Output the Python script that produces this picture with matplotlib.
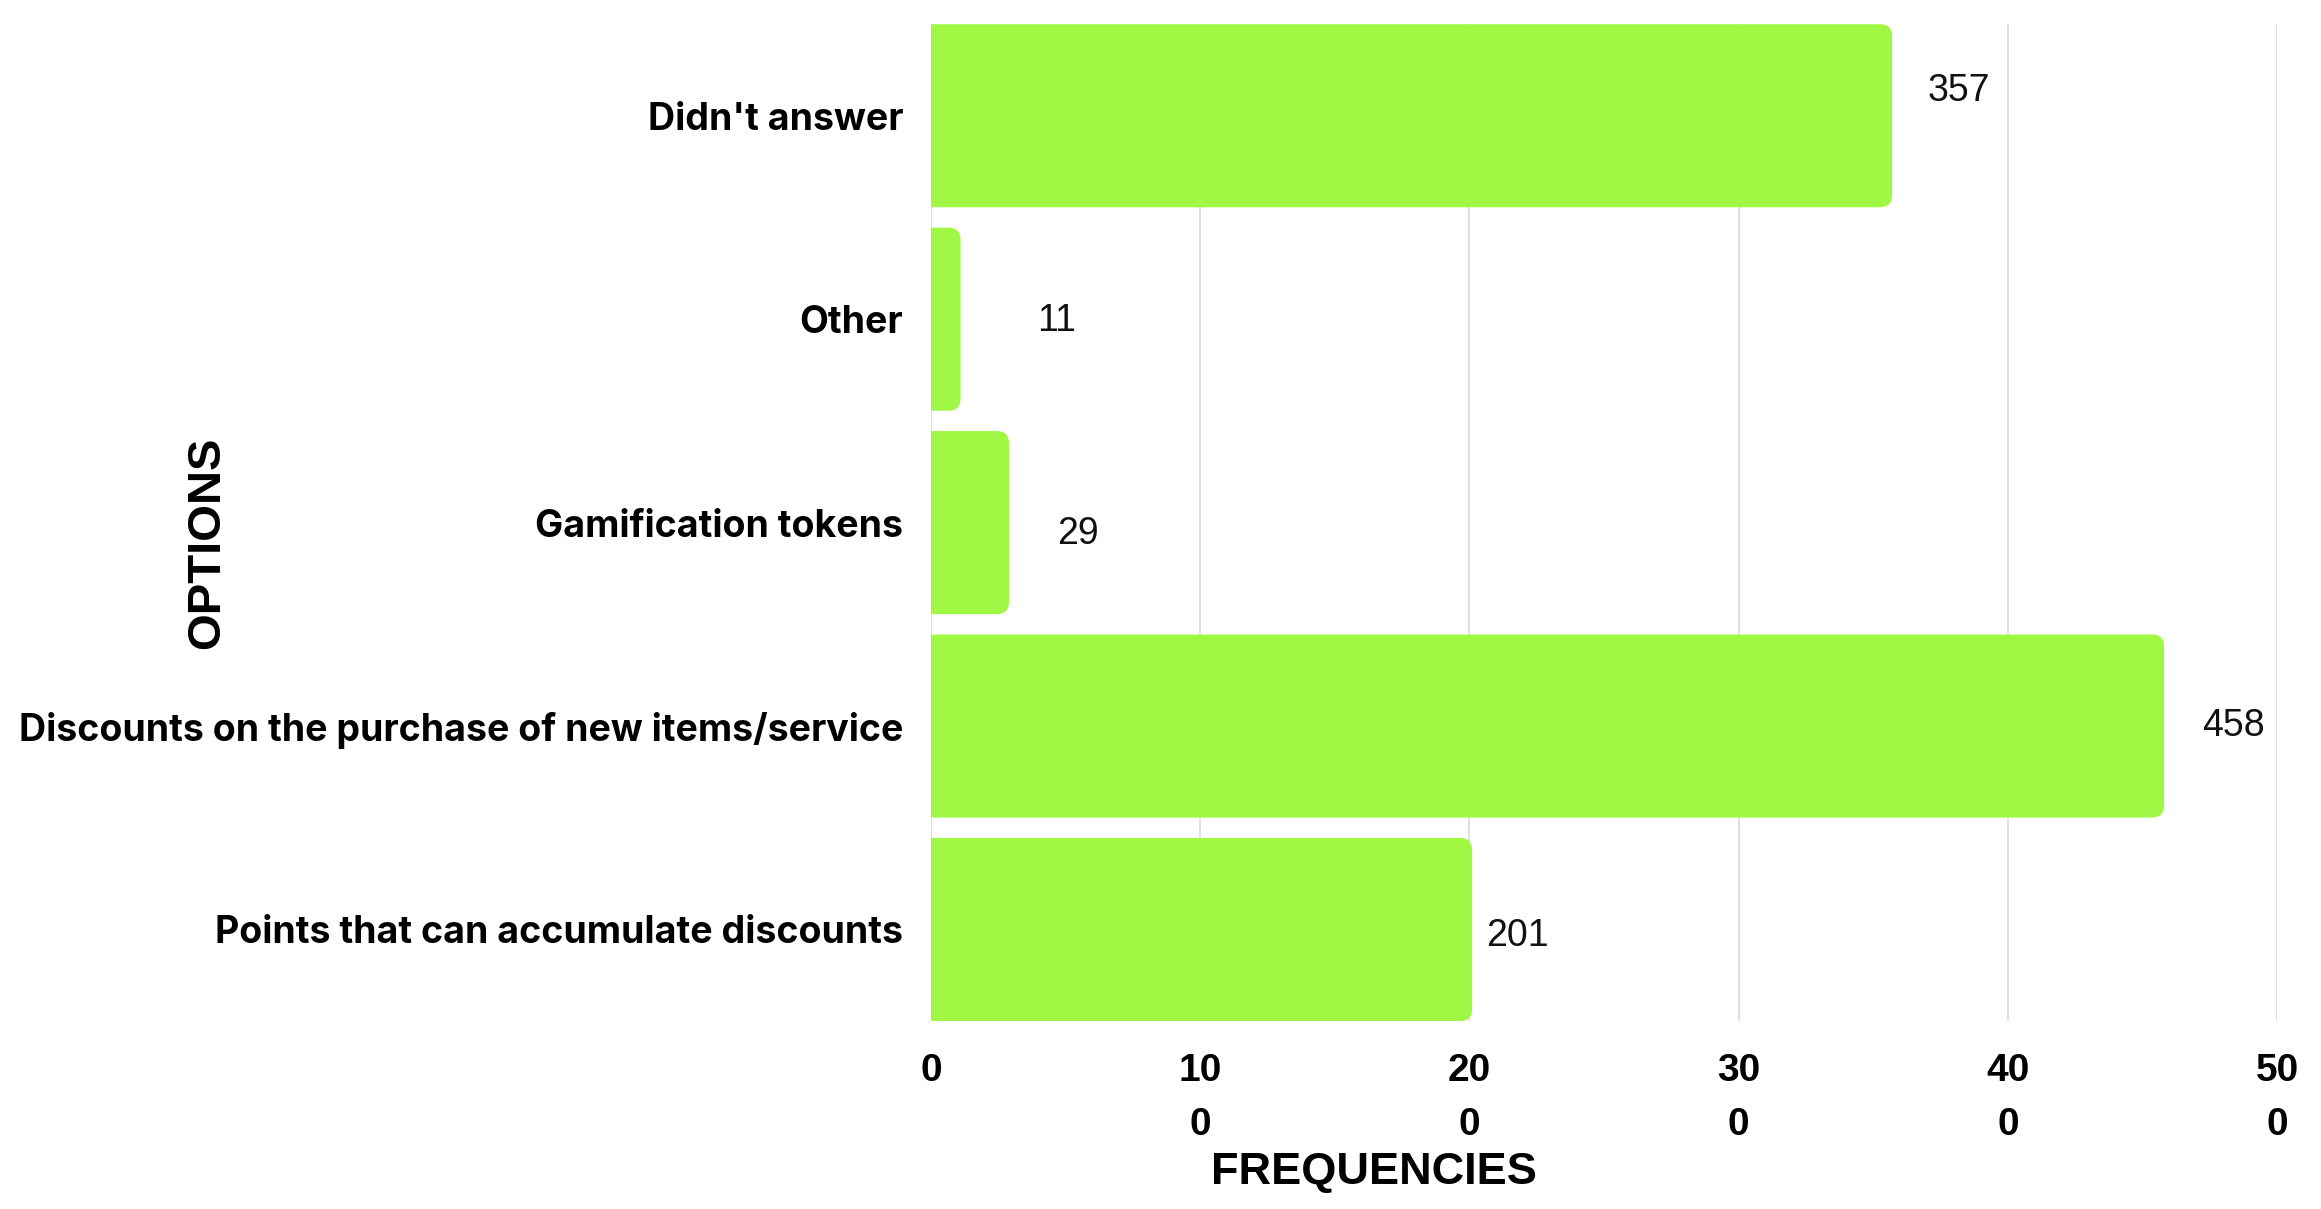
import matplotlib.pyplot as plt
from matplotlib.patches import FancyBboxPatch

# Data (bottom to top)
options = ['Points that can accumulate discounts',
           'Discounts on the purchase of new items/service',
           'Gamification tokens',
           'Other',
           "Didn't answer"]
freqs = [201, 458, 29, 11, 357]
xticks = [0, 100, 200, 300, 400, 500]
xtick_labels = ['0', '10\n0', '20\n0', '30\n0', '40\n0', '50\n0']

# label nudges in pixels (dx right, dy up)
lab_dx = [14, 38, 48, 77, 35]
lab_dy = [-7, 0, -11, -2, 25]

bar_color = '#a0f845'

fig = plt.figure(figsize=(23.21, 12.09), dpi=100)
ax = fig.add_axes([0.4011, 0.1555, 0.5800, 0.8245])

bars = ax.barh(range(len(options)), freqs, height=0.9, color=bar_color, zorder=2)

# rounded right ends
for b in bars:
    b.set_visible(False)
    p = FancyBboxPatch((b.get_x() - 8, b.get_y()), b.get_width() + 8, b.get_height(),
                       boxstyle='round,pad=0,rounding_size=4.5', mutation_aspect=0.0135,
                       fc=bar_color, ec='none', zorder=2)
    ax.add_patch(p)

ax.set_xlim(0, 500)
ax.set_ylim(-0.45, len(options) - 0.55)

ax.set_xticks(xticks)
ax.set_xticklabels(xtick_labels, fontsize=28, fontweight='bold',
                   family='Liberation Sans', linespacing=1.65)
ax.set_yticks(range(len(options)))
ax.set_yticklabels(options, fontsize=27, fontweight='bold', family='Inter')
ax.tick_params(axis='x', length=0, pad=23)
ax.tick_params(axis='y', length=0, pad=20)

ax.grid(axis='x', color='#e0e0e0', linewidth=1.5, zorder=0)
for s in ax.spines.values():
    s.set_visible(False)

for i, v in enumerate(freqs):
    ax.annotate(str(v), xy=(v, i), xytext=(lab_dx[i] * 0.72, lab_dy[i] * 0.72),
                textcoords='offset points', ha='left', va='center',
                fontsize=27, family='Liberation Sans', color='#111111')

fig.text(0.0892, 0.551, 'OPTIONS', rotation=90, ha='center', va='center',
         fontsize=34, fontweight='bold', family='Liberation Sans')
fig.text(0.592, 0.030, 'FREQUENCIES', ha='center', va='center',
         fontsize=32.5, fontweight='bold', family='Liberation Sans')

fig.savefig('out.png', dpi=100)
